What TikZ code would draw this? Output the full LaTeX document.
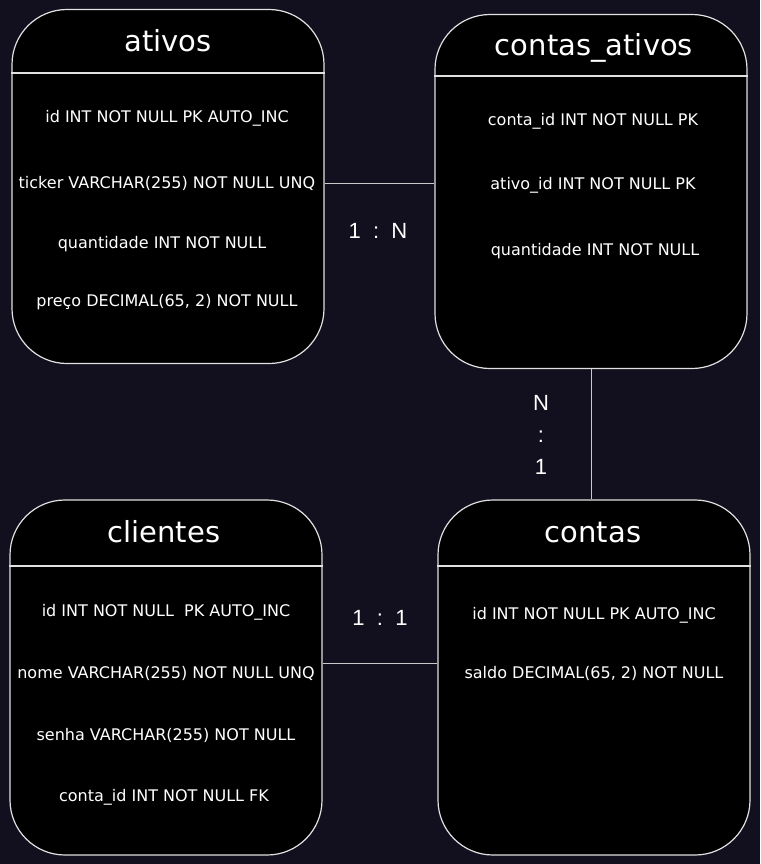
\documentclass[tikz,border=0pt]{standalone}
\usepackage{fontspec}
\setmainfont{DejaVu Sans}
\newfontfamily\lblfont{Liberation Sans}
\definecolor{bgc}{RGB}{18,16,30}
\definecolor{linec}{RGB}{225,225,225}
\begin{document}
\begin{tikzpicture}[x=1pt,y=-1pt,
  tbl/.style={draw=linec, fill=black, rounded corners=55pt, line width=1.2pt, inner sep=0pt, minimum width=312pt, minimum height=354pt},
  ttl/.style={text=white, font=\fontsize{29}{32}\selectfont, inner sep=0pt, text height=19pt, text depth=6pt},
  row/.style={text=white, font=\fontsize{16}{18}\selectfont, inner sep=0pt, text height=11pt, text depth=0pt},
  div/.style={draw=linec, line width=1.2pt},
  conn/.style={draw=linec!90!black, line width=1pt},
  card/.style={text=white, font=\lblfont\fontsize{22}{32}\selectfont, inner sep=0pt, align=center}
]
\useasboundingbox[fill=bgc] (0,0) rectangle (760,864);

% tables
\node[tbl] (ativos) at (168,186.5) {};
\node[tbl] (ca) at (591,191.5) {};
\node[tbl, minimum height=355pt] (clientes) at (166,677.5) {};
\node[tbl, minimum height=355pt] (contas) at (594,677.5) {};

% dividers
\coordinate (d1) at (0,73);
\coordinate (d2) at (0,76);
\coordinate (d3) at (0,566);
\draw[div] (ativos.west |- d1) -- (ativos.east |- d1);
\draw[div] (ca.west |- d2) -- (ca.east |- d2);
\draw[div] (clientes.west |- d3) -- (clientes.east |- d3);
\draw[div] (contas.west |- d3) -- (contas.east |- d3);

% titles
\node[ttl] (t1) at (168,45) {ativos};
\node[ttl] (t2) at (594,49) {contas\_ativos};
\node[ttl] (t3) at (164,536) {clientes};
\node[ttl] (t4) at (593,536) {contas};

% ativos rows
\node[row] (a1) at (167,117) {id INT NOT NULL PK AUTO\_INC};
\node[row] (a2) at (167,183) {ticker VARCHAR(255) NOT NULL UNQ};
\node[row] (a3) at (162,243) {quantidade INT NOT NULL};
\node[row] (a4) at (167,301) {preço DECIMAL(65, 2) NOT NULL};

% contas_ativos rows
\node[row] (c1) at (593,120) {conta\_id INT NOT NULL PK};
\node[row] (c2) at (593,184) {ativo\_id INT NOT NULL PK};
\node[row] (c3) at (595,250) {quantidade INT NOT NULL};

% clientes rows
\node[row] (k1) at (166,611) {id INT NOT NULL\ \ PK AUTO\_INC};
\node[row] (k2) at (166,673) {nome VARCHAR(255) NOT NULL UNQ};
\node[row] (k3) at (166,735) {senha VARCHAR(255) NOT NULL};
\node[row] (k4) at (164,796) {conta\_id INT NOT NULL FK};

% contas rows
\node[row] (s1) at (594,614) {id INT NOT NULL PK AUTO\_INC};
\node[row] (s2) at (594,673) {saldo DECIMAL(65, 2) NOT NULL};

% connectors
\draw[conn] (ativos.east |- a2) -- (ca.west |- a2);
\draw[conn] (ca.south) -- (ca.south |- contas.north);
\coordinate (l3) at (380,663);
\draw[conn] (clientes.east |- l3) -- (contas.west |- l3);

% cardinality labels
\node[card] (n1) at (378,231) {1\ \ :\ \ N};
\node[card] (n2) at (541,435) {N\\:\\1};
\node[card] (n3) at (380,618) {1\ \ :\ \ 1};
\end{tikzpicture}
\end{document}
